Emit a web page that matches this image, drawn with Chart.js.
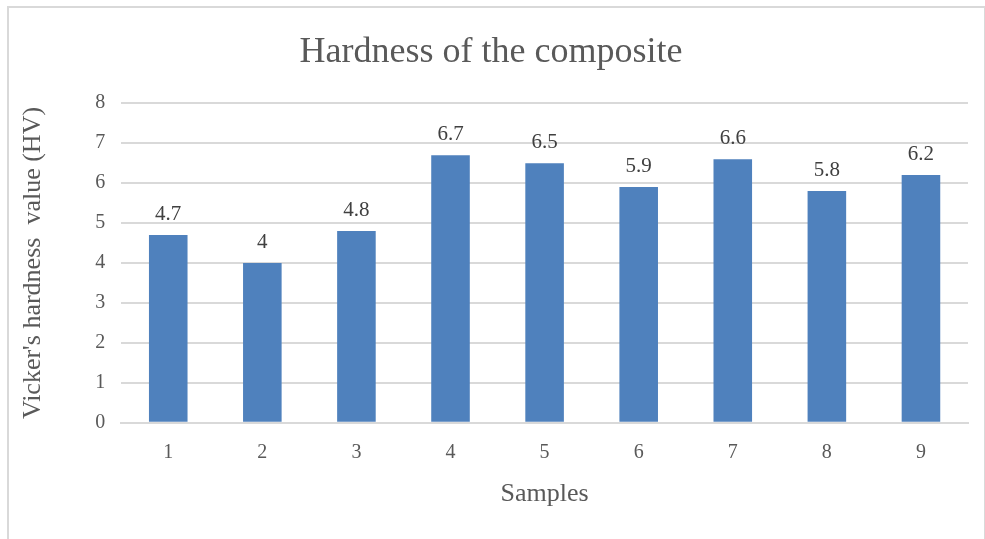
<!DOCTYPE html>
<html>
<head>
<meta charset="utf-8">
<script src="https://cdn.jsdelivr.net/npm/chart.js@4"></script>
<style>
  body { margin: 0; background: #fff; }
  #frame { position: absolute; left: 7px; top: 6px; width: 975px; height: 545px; border: 2px solid #d9d9d9; border-bottom: none; }
  #c { position: absolute; left: 0; top: 0; }
</style>
</head>
<body>
<div id="frame"></div>
<canvas id="c" width="985" height="539"></canvas>
<script>
const samples = ['1', '2', '3', '4', '5', '6', '7', '8', '9'];
const hardness = [4.7, 4, 4.8, 6.7, 6.5, 5.9, 6.6, 5.8, 6.2];

const font = "'Liberation Serif', 'DejaVu Serif', serif";
const grey = '#595959';

// value labels above each bar
const barLabels = {
  id: 'barLabels',
  afterDatasetsDraw(chart) {
    const ctx = chart.ctx;
    const meta = chart.getDatasetMeta(0);
    ctx.save();
    ctx.font = '21px ' + font;
    ctx.fillStyle = '#404040';
    ctx.textAlign = 'center';
    ctx.textBaseline = 'bottom';
    meta.data.forEach((bar, i) => {
      ctx.fillText(String(hardness[i]), bar.x, bar.y - 10);
    });
    ctx.restore();
  }
};

new Chart(document.getElementById('c'), {
  type: 'bar',
  data: {
    labels: samples,
    datasets: [{
      data: hardness,
      backgroundColor: '#4f81bd',
      categoryPercentage: 1,
      barPercentage: 0.41
    }]
  },
  options: {
    responsive: false,
    animation: false,
    layout: { padding: { left: 14, right: 17, top: 14, bottom: 25 } },
    plugins: {
      legend: { display: false },
      tooltip: { enabled: false },
      title: {
        display: true,
        text: 'Hardness of the composite',
        color: grey,
        font: { family: font, size: 36, weight: 'normal' },
        padding: { top: 17, bottom: 29 }
      }
    },
    scales: {
      x: {
        grid: { display: false },
        border: { color: '#d9d9d9', width: 2 },
        ticks: { color: grey, font: { family: font, size: 20 }, padding: 10 },
        title: { display: true, text: 'Samples', color: grey, font: { family: font, size: 26 }, padding: { top: 4 } }
      },
      y: {
        min: 0,
        max: 8,
        ticks: { stepSize: 1, color: grey, font: { family: font, size: 20 }, padding: 16 },
        grid: { color: '#d9d9d9', lineWidth: 2, drawTicks: false },
        border: { display: false },
        title: { display: true, text: "Vicker's hardness  value (HV)", color: grey, font: { family: font, size: 26 }, padding: { bottom: 30 } }
      }
    }
  },
  plugins: [barLabels]
});
</script>
</body>
</html>
